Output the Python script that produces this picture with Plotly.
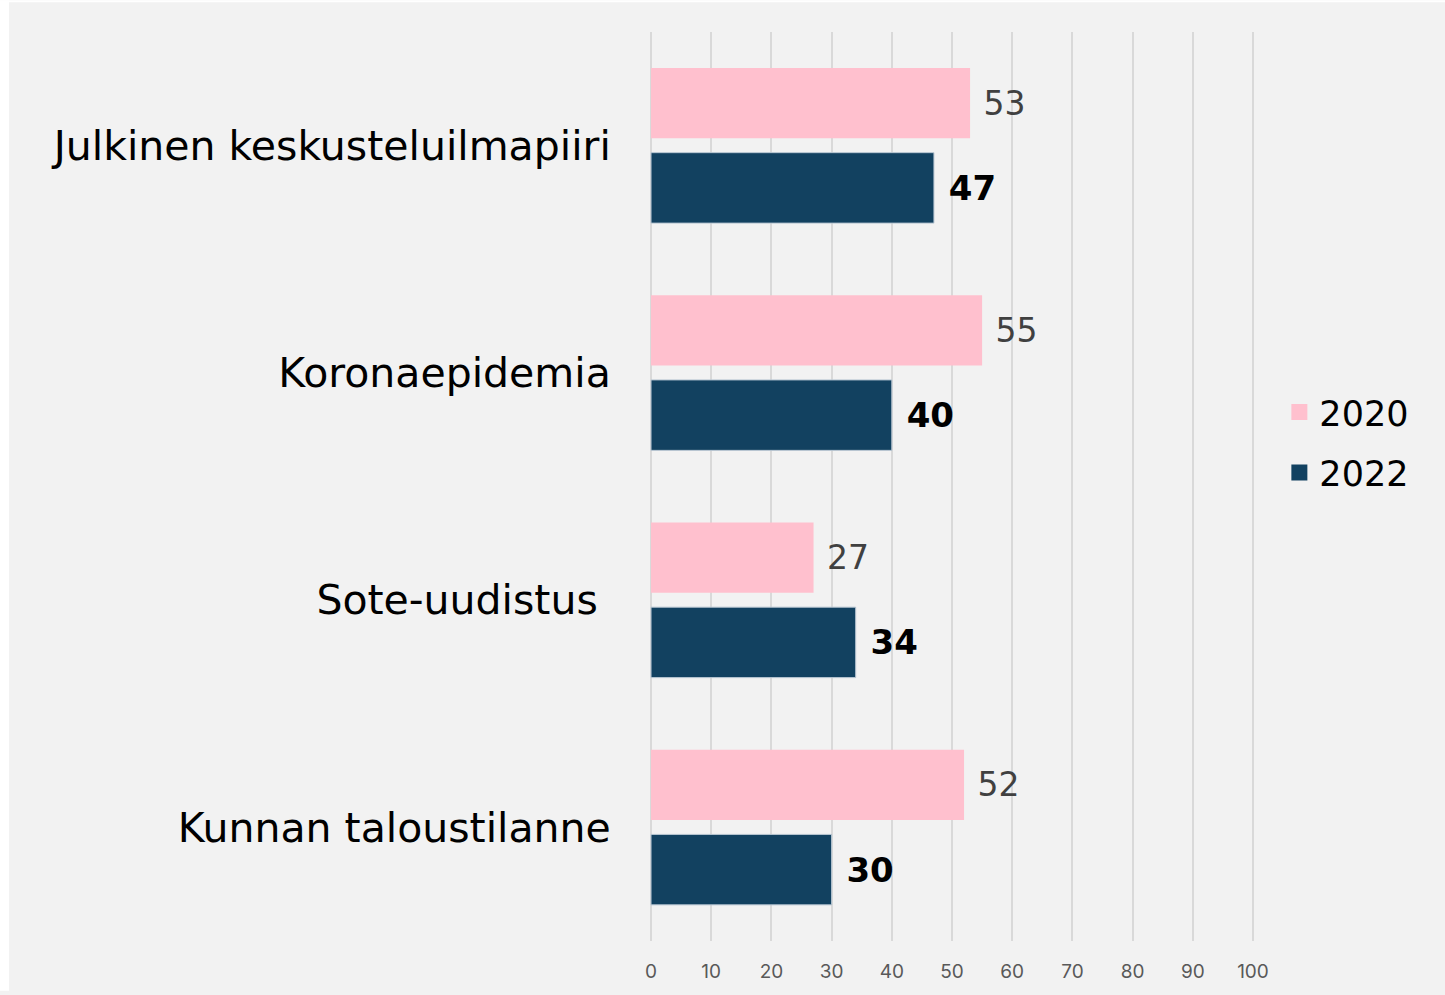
import plotly.graph_objects as go

categories = ["Julkinen keskusteluilmapiiri", "Koronaepidemia", "Sote-uudistus\u00a0", "Kunnan taloustilanne"]
values_2020 = [53, 55, 27, 52]
values_2022 = [47, 40, 34, 30]
series_names = ["2020", "2022"]
x_ticks = [0, 10, 20, 30, 40, 50, 60, 70, 80, 90, 100]

PINK = "#FFC0CE"
NAVY = "#124160"
FONT = "DejaVu Sans"

fig = go.Figure()
fig.add_trace(go.Bar(
    name=series_names[0], y=categories, x=values_2020, orientation="h",
    marker=dict(color=PINK, line=dict(width=0)),
    width=0.31, offset=-0.342, showlegend=False,
    text=values_2020, texttemplate="\u00a0%{x}", textposition="outside",
    textfont=dict(family=FONT, size=33, color="#404040"),
    cliponaxis=False,
))
fig.add_trace(go.Bar(
    name=series_names[1], y=categories, x=values_2022, orientation="h",
    marker=dict(color=NAVY, line=dict(width=1, color="#b8c6d2")),
    width=0.31, offset=0.031, showlegend=False,
    text=values_2022, texttemplate="\u00a0%{x}", textposition="outside",
    textfont=dict(family=FONT, size=34, color="#000000", weight="bold"),
    cliponaxis=False,
))
# legend entries with larger square swatches
for name, col in zip(series_names, [PINK, NAVY]):
    fig.add_trace(go.Scatter(
        x=[None], y=[None], mode="markers", name=name, legendgroup=name,
        marker=dict(symbol="square", size=18, color=col),
    ))

L, R, T, B = 650, 191, 32, 50
W, H = 1445, 995
pw, ph = W - L - R, H - T - B

fig.update_layout(
    width=W, height=H,
    margin=dict(l=L, r=R, t=T, b=B, pad=0),
    paper_bgcolor="#f2f2f2", plot_bgcolor="#f2f2f2",
    barmode="group",
    showlegend=True,
    legend=dict(
        x=1.042, y=(H - B - 444) / ph, xanchor="left", yanchor="middle",
        font=dict(family=FONT, size=35, color="#000000"),
        traceorder="grouped", bgcolor="rgba(0,0,0,0)", itemwidth=30,
        itemsizing="trace", tracegroupgap=12,
    ),
    xaxis=dict(
        range=[-0.17, 100.17], tickvals=x_ticks, showgrid=True, gridcolor="#d9d9d9", gridwidth=2,
        zeroline=False, showline=False,
        tickfont=dict(family="Inter", size=19, color="#595959"),
        ticks="outside", ticklen=13, tickcolor="rgba(0,0,0,0)",
    ),
    yaxis=dict(
        autorange="reversed", showgrid=False, zeroline=False, showline=False,
        tickfont=dict(family=FONT, size=41, color="#000000"),
        ticks="outside", ticklen=30, tickcolor="rgba(0,0,0,0)",
    ),
    shapes=[
        dict(type="rect", xref="paper", yref="paper", layer="above",
             x0=-L / pw, x1=(9 - L) / pw, y0=-B / ph, y1=1 + T / ph,
             fillcolor="#ffffff", line=dict(width=0)),
        dict(type="rect", xref="paper", yref="paper", layer="above",
             x0=-L / pw, x1=1 + R / pw, y0=1 + (T - 2) / ph, y1=1 + T / ph,
             fillcolor="#ffffff", line=dict(width=0)),
    ],
)

fig.write_html("out.html", config={"displayModeBar": False},
               post_script="document.body.style.margin='0';")
